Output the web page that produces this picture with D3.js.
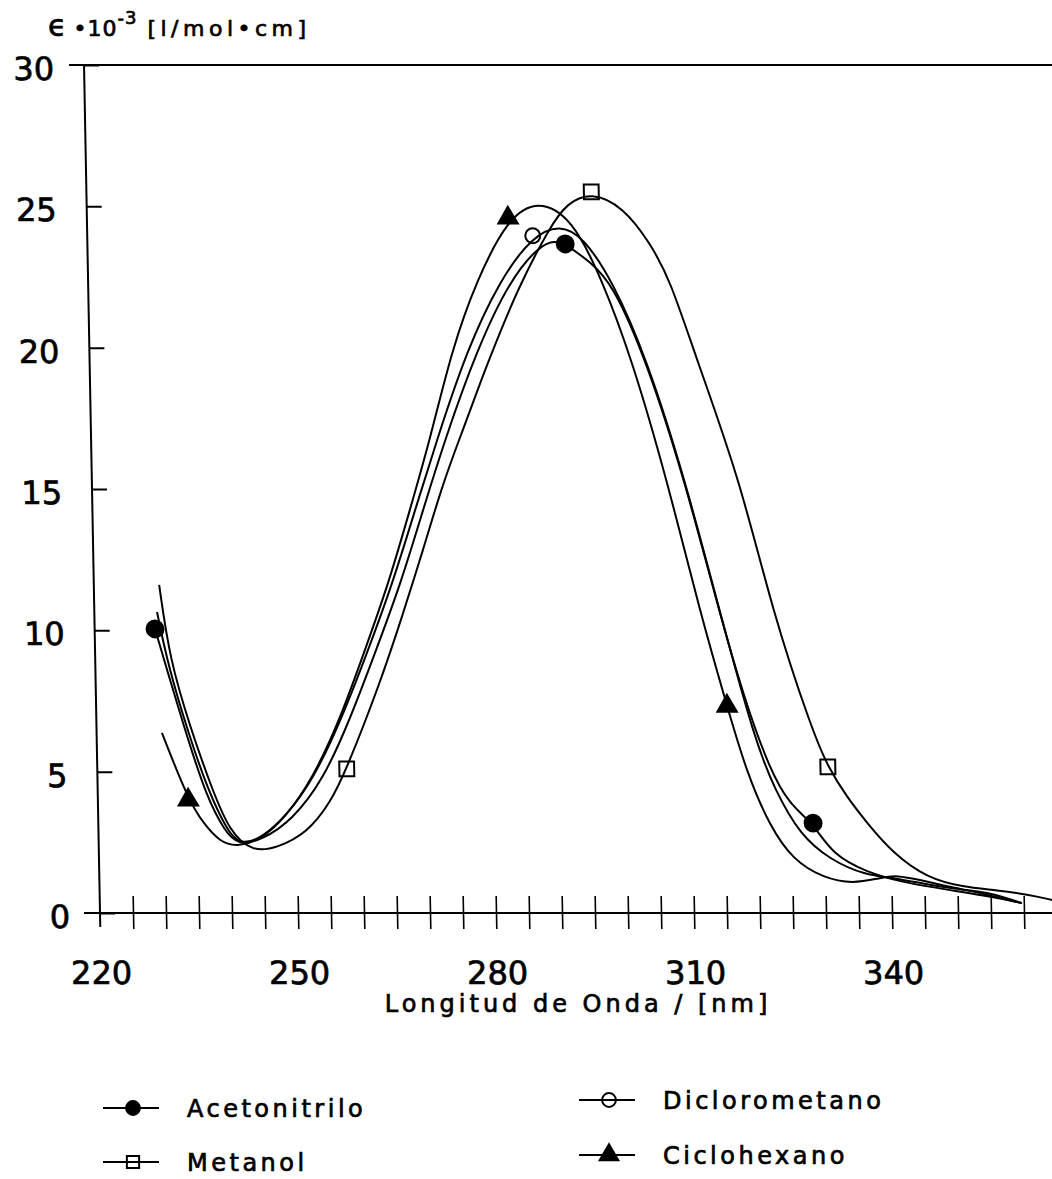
<!DOCTYPE html>
<html>
<head>
<meta charset="utf-8">
<script src="https://cdn.jsdelivr.net/npm/d3@7"></script>
<style>
body { margin: 0; background: #fff; }
svg { display: block; font-family: 'DejaVu Sans', sans-serif; }
text { stroke: #000; stroke-width: 0.7px; }
</style>
</head>
<body>
<div id="chart"></div>
<script>
// wavelength (nm) / epsilon * 10^-3
const x_labels = [220, 250, 280, 310, 340];
const y_labels = [0, 5, 10, 15, 20, 25, 30];

const acetonitrilo = [
    [229.15, 10.05], [230.85, 8.60], [233.7, 6.23], [236.5, 4.10], [239.2, 2.87],
    [241.1, 2.41], [244.75, 2.58], [249.4, 3.29], [254.2, 4.71], [258.4, 6.83],
    [262.6, 9.31], [266.55, 11.68], [270.1, 14.26], [273.6, 16.74], [278.7, 19.92],
    [283.9, 22.40], [288.6, 23.64], [290.9, 23.78], [292.4, 23.67], [296.1, 23.04],
    [299.4, 22.29], [304.45, 19.50], [309.9, 15.25], [314.8, 10.54], [318.3, 7.54],
    [321.9, 5.06], [324.85, 3.82], [328.3, 3.18], [331.2, 2.05], [336.3, 1.45],
    [341.3, 1.10], [348.85, 0.81], [355.35, 0.57], [359.7, 0.35]
];
const diclorometano = [
    [229.5, 10.65], [231.0, 8.78], [233.85, 6.40], [236.7, 4.35], [239.6, 2.87],
    [241.4, 2.41], [244.8, 2.65], [248.6, 3.47], [252.65, 4.71], [257.1, 6.83],
    [261.4, 9.31], [265.3, 11.68], [268.9, 14.26], [272.4, 16.74], [277.2, 19.92],
    [282.4, 22.40], [287.5, 23.96], [291.7, 24.35], [295.1, 23.92], [299.4, 22.40],
    [304.5, 19.57], [309.9, 15.32], [314.8, 10.62], [319.7, 6.12], [322.6, 4.35],
    [326.3, 2.76], [330.8, 1.88], [336.0, 1.34], [340.55, 1.24], [345.8, 0.99],
    [351.1, 0.81], [355.2, 0.71], [359.7, 0.35]
];
const metanol = [
    [229.9, 11.61], [231.3, 8.95], [234.2, 6.58], [237.0, 4.60], [239.9, 2.83],
    [243.4, 2.16], [247.0, 2.30], [251.6, 2.83], [255.2, 3.89], [257.8, 5.10],
    [263.1, 8.14], [266.6, 10.47], [270.0, 12.85], [273.2, 15.22], [276.2, 16.99],
    [279.1, 18.75], [281.15, 19.92], [285.0, 22.05], [290.1, 24.27], [292.8, 25.12],
    [296.5, 25.51], [301.3, 24.98], [305.25, 23.71], [308.2, 22.40], [312.0, 19.57],
    [318.2, 15.32], [322.8, 10.62], [328.4, 6.48], [330.7, 5.17], [333.5, 4.10],
    [336.5, 3.18], [340.3, 2.12], [345.4, 1.24], [350.8, 0.92], [356.0, 0.81],
    [361.0, 0.64], [364.3, 0.46]
];
const ciclohexano = [
    [229.9, 6.37], [233.7, 4.00], [235.9, 3.18], [238.4, 2.51], [240.9, 2.34],
    [244.5, 2.58], [248.3, 3.36], [252.5, 4.71], [256.9, 6.83], [260.9, 9.31],
    [264.7, 11.68], [268.1, 14.26], [271.35, 16.74], [274.9, 19.92], [278.9, 22.40],
    [283.8, 24.59], [288.4, 25.23], [293.5, 24.59], [297.9, 22.40], [302.2, 19.57],
    [307.15, 15.32], [311.8, 10.62], [315.6, 7.32], [318.4, 4.95], [321.8, 3.04],
    [325.15, 1.88], [329.65, 1.24], [334.2, 1.03], [338.3, 1.24], [340.9, 1.34],
    [344.3, 1.17], [348.9, 0.92], [353.4, 0.71], [359.7, 0.35]
];

// points where the plotter put a symbol
const acetonitrilo_marks = [[229.15, 10.05], [292.4, 23.67], [328.3, 3.18]];
const diclorometano_marks = [[287.5, 23.96]];
const metanol_marks = [[257.8, 5.10], [296.5, 25.51], [330.7, 5.17]];
const ciclohexano_marks = [[233.7, 4.00], [283.8, 24.59], [315.6, 7.32]];

const chart_width = 1052;
const chart_height = 1179;

const svg = d3.select('#chart')
    .append('svg')
    .attr('width', chart_width)
    .attr('height', chart_height);

// scales
const x_scale = d3.scaleLinear()
    .domain([220, 365])
    .range([100, 100 + 145 * 6.6]);

const y_scale = d3.scaleLinear()
    .domain([0, 30])
    .range([913, 65]);

// the scan leans a little, so the whole plot is sheared about the x axis
const plot = svg.append('g')
    .attr('transform', `translate(0,${y_scale(0)}) skewX(1.08) translate(0,${-y_scale(0)})`);

// frame lines
plot.append('line')
    .attr('x1', x_scale(220)).attr('x2', x_scale(220))
    .attr('y1', y_scale(30)).attr('y2', y_scale(0) + 14)
    .attr('stroke', '#000').attr('stroke-width', 2);
plot.append('line')
    .attr('x1', x_scale(220) - 15).attr('x2', x_scale(368))
    .attr('y1', y_scale(30)).attr('y2', y_scale(30))
    .attr('stroke', '#000').attr('stroke-width', 2);
plot.append('line')
    .attr('x1', x_scale(220) - 16).attr('x2', x_scale(368))
    .attr('y1', y_scale(0)).attr('y2', y_scale(0))
    .attr('stroke', '#000').attr('stroke-width', 2);

// x axis
const x_axis = d3.axisBottom(x_scale)
    .tickValues(d3.range(225, 365, 5))
    .tickSize(16)
    .tickFormat('');
const xg = plot.append('g')
    .attr('transform', `translate(0,${y_scale(0)})`)
    .call(x_axis);
xg.select('.domain').remove();
xg.selectAll('.tick line')
    .attr('y1', -17)
    .attr('stroke', '#000')
    .attr('stroke-width', 1.6);

const x_axis_labels = d3.axisBottom(x_scale)
    .tickValues(x_labels)
    .tickSize(0)
    .tickPadding(0);
const xl = plot.append('g')
    .attr('transform', `translate(0,${y_scale(0)})`)
    .call(x_axis_labels);
xl.select('.domain').remove();
xl.selectAll('text')
    .attr('y', 71)
    .attr('dy', 0)
    .attr('fill', '#000')
    .style('font-size', '32px')
    .style('font-family', "'DejaVu Sans', sans-serif");

// y axis
const y_axis = d3.axisLeft(y_scale)
    .tickValues(y_labels)
    .tickSize(15)
    .tickPadding(15);
const yg = plot.append('g')
    .attr('transform', `translate(${x_scale(220)},0)`)
    .call(y_axis);
yg.select('.domain').remove();
yg.selectAll('.tick line')
    .attr('x2', 15)
    .attr('stroke', '#000')
    .attr('stroke-width', 2);
yg.selectAll('text')
    .attr('dy', '0.45em')
    .attr('fill', '#000')
    .style('font-size', '32px')
    .style('font-family', "'DejaVu Sans', sans-serif");

// curves
const line = d3.line()
    .x(d => x_scale(d[0]))
    .y(d => y_scale(d[1]))
    .curve(d3.curveBasis);

const series = [acetonitrilo, diclorometano, metanol, ciclohexano];
plot.selectAll('path.curve')
    .data(series)
    .enter()
    .append('path')
    .attr('class', 'curve')
    .attr('d', line)
    .attr('fill', 'none')
    .attr('stroke', '#000')
    .attr('stroke-width', 2);

// markers
const filled_circle = d3.symbol().type(d3.symbolCircle).size(225);
const open_circle = d3.symbol().type(d3.symbolCircle).size(175);
const open_square = d3.symbol().type(d3.symbolSquare).size(220);
const filled_tri = d3.symbol().type(d3.symbolTriangle).size(165);

const mark_sets = [
    { pts: acetonitrilo_marks, sym: filled_circle, fill: '#000' },
    { pts: diclorometano_marks, sym: open_circle, fill: 'none' },
    { pts: metanol_marks, sym: open_square, fill: 'none' },
    { pts: ciclohexano_marks, sym: filled_tri, fill: '#000' }
];
mark_sets.forEach(m => {
    plot.selectAll(null)
        .data(m.pts)
        .enter()
        .append('path')
        .attr('d', m.sym)
        .attr('transform', d => `translate(${x_scale(d[0])},${y_scale(d[1])})`)
        .attr('fill', m.fill)
        .attr('stroke', '#000')
        .attr('stroke-width', 2);
});

// y title
const title = svg.append('text')
    .attr('x', 48)
    .attr('y', 36)
    .attr('fill', '#000')
    .style('font-size', '22px')
    .style('letter-spacing', '1px');
title.append('tspan').text('\u03F5').style('font-size', '30px');
title.append('tspan').text('\u202210').attr('dx', 6);
title.append('tspan').text('-3').attr('dy', -12).style('font-size', '18px');
title.append('tspan').text('[l/mol\u2022cm]').attr('dx', 10).attr('dy', 12).style('letter-spacing', '4.5px');

// x title
svg.append('text')
    .attr('x', 578)
    .attr('y', 1012)
    .attr('text-anchor', 'middle')
    .attr('fill', '#000')
    .style('font-size', '24px')
    .style('letter-spacing', '4px')
    .text('Longitud de Onda / [nm]');

// legend
const legend = [
    { name: 'Acetonitrilo', sym: filled_circle, fill: '#000', x: 103, y: 1108 },
    { name: 'Metanol', sym: open_square, fill: 'none', x: 103, y: 1162 },
    { name: 'Diclorometano', sym: open_circle, fill: 'none', x: 579, y: 1100 },
    { name: 'Ciclohexano', sym: filled_tri, fill: '#000', x: 579, y: 1155 }
];
const lg = svg.selectAll('g.legend')
    .data(legend)
    .enter()
    .append('g')
    .attr('class', 'legend')
    .attr('transform', d => `translate(${d.x},${d.y})`);
lg.append('line')
    .attr('x1', 0).attr('x2', 56)
    .attr('stroke', '#000').attr('stroke-width', 2);
lg.append('path')
    .attr('d', d => d.sym.size(150)())
    .attr('transform', 'translate(30,0)')
    .attr('fill', d => d.fill)
    .attr('stroke', '#000')
    .attr('stroke-width', 2);
lg.append('text')
    .attr('x', 84)
    .attr('dy', '0.36em')
    .attr('fill', '#000')
    .style('font-size', '24px')
    .style('letter-spacing', '3.5px')
    .text(d => d.name);
</script>
